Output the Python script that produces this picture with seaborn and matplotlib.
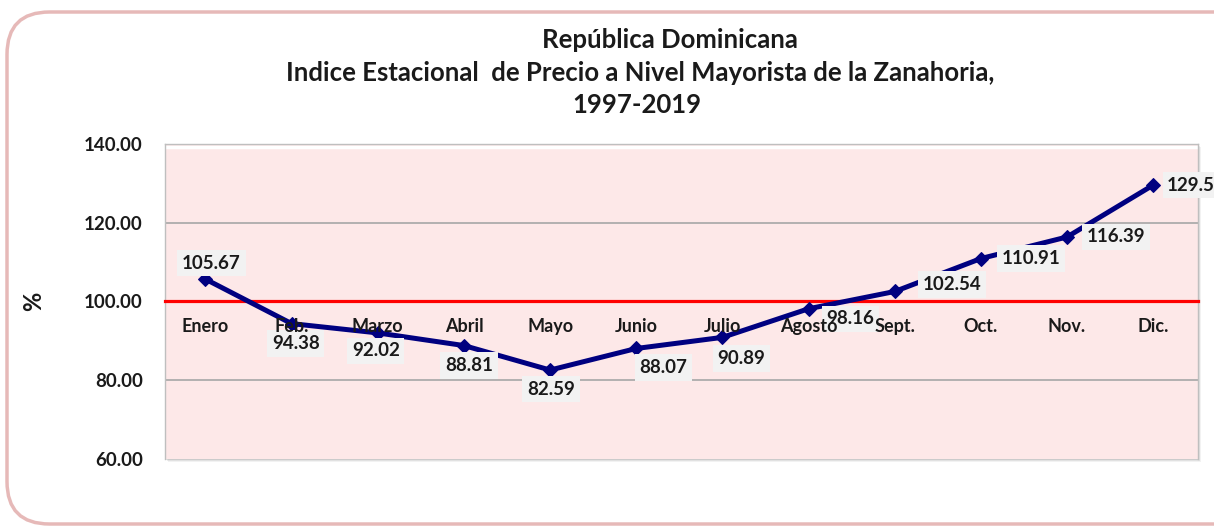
import numpy as np
import pandas as pd
import matplotlib
matplotlib.use("Agg")
import matplotlib.pyplot as plt
from matplotlib.patches import FancyBboxPatch, Rectangle
import seaborn as sns

months = ["Enero", "Feb.", "Marzo", "Abril", "Mayo", "Junio", "Julio",
          "Agosto", "Sept.", "Oct.", "Nov.", "Dic."]
values = [105.67, 94.38, 92.02, 88.81, 82.59, 88.07, 90.89,
          98.16, 102.54, 110.91, 116.39, 129.57]
y_ticks = [60, 80, 100, 120, 140]
title_lines = ["República Dominicana",
               "Indice Estacional  de Precio a Nivel Mayorista de la Zanahoria,",
               "1997-2019"]

# label offsets in pixels (dx, dy up) and horizontal alignment
label_offsets = [(6, 16, "center"), (4, -20, "center"), (-2, -18, "center"),
                 (5, -20, "center"), (1, -19, "center"), (27, -19, "center"),
                 (19, -21, "center"), (42, -10, "center"), (57, 7, "center"),
                 (50, 0, "center"), (49, 0, "center"), (14, 0, "left")]

sns.set_theme(style="white")
plt.rcParams["font.family"] = ["Lato", "DejaVu Sans"]
plt.rcParams["font.weight"] = "bold"

W, H = 1214, 529
fig = plt.figure(figsize=(W / 100, H / 100), dpi=100)
fig.patch.set_facecolor("white")

# outer rounded border
border = FancyBboxPatch((7 / W, 5 / H), (W + 40) / W, (H - 17) / H,
                        boxstyle="round,pad=0,rounding_size=0.035",
                        transform=fig.transFigure, facecolor="white",
                        edgecolor="#E6B9B8", linewidth=2.5, zorder=0,
                        mutation_aspect=W / H)
fig.patches.append(border)

ax_l, ax_b, ax_w, ax_h = 165 / W, 70 / H, 1033 / W, 315 / H
# shadow behind plot area
for i, a in enumerate([0.10, 0.15, 0.22]):
    off = (3 - i) / W
    offy = (3 - i) / H
    fig.patches.append(Rectangle((ax_l + off, ax_b - offy), ax_w, ax_h,
                                 transform=fig.transFigure, facecolor="#808080",
                                 edgecolor="none", alpha=a, zorder=1))

ax = fig.add_axes([ax_l, ax_b, ax_w, ax_h], zorder=2)
ax.set_facecolor("#FDE8E8")

df = pd.DataFrame({"pos": np.arange(len(months)), "mes": months, "valor": values})
sns.lineplot(data=df, x="pos", y="valor", ax=ax, sort=False, color="#000080",
             linewidth=3.6, marker="D", markersize=7.5, markeredgecolor="#000080",
             zorder=5)

ax.spines["bottom"].set_position(("data", 100))
ax.spines["bottom"].set_color("#FF0000")
ax.spines["bottom"].set_linewidth(2.3)
ax.spines["bottom"].set_zorder(3)
for s in ["top", "left", "right"]:
    ax.spines[s].set_color("#BFBFBF")
    ax.spines[s].set_linewidth(1.0)

ax.set_xlim(-0.47, 11.52)
ax.set_ylim(60, 140)
ax.set_yticks(y_ticks)
ax.set_yticklabels([f"{v:.2f}" for v in y_ticks], fontsize=13.5, fontweight="bold",
                   color="#1a1a1a")
for v in [80, 120]:
    ax.axhline(v, color="#A6A6A6", linewidth=1.2, zorder=1)

ax.set_xticks(np.arange(len(months)))
ax.set_xticklabels(months, fontsize=13, fontweight="bold", color="#1a1a1a")
ax.tick_params(axis="x", length=0, pad=12)
ax.tick_params(axis="y", length=0, pad=16)
ax.xaxis.set_zorder(6.5)
ax.set_xlabel("")
ax.set_ylabel("%", fontsize=17, fontweight="bold", color="#1a1a1a")
ax.yaxis.set_label_coords((45 - 165) / 1033, 0.5)
ax.grid(False)

# top white bevel
ax.axhline(139.3, color="white", linewidth=2.5, zorder=1)

for i, (v, (dx, dy, ha)) in enumerate(zip(values, label_offsets)):
    ax.annotate(f"{v:.2f}", xy=(i, v), xytext=(dx * 0.72, dy * 0.72),
                textcoords="offset points", ha=ha, va="center",
                fontsize=13.5, fontweight="bold", color="#1a1a1a",
                bbox=dict(boxstyle="square,pad=0.25", facecolor="#F2F2F2",
                          edgecolor="none"),
                zorder=6, annotation_clip=False)

ys = [1 - 40 / H, 1 - 73 / H, 1 - 105 / H]
xs = [670 / W, 640 / W, 637 / W]
for t, x, y in zip(title_lines, xs, ys):
    fig.text(x, y, t, ha="center", va="center", fontsize=18.5,
             fontweight="bold", color="#1a1a1a")

fig.savefig("out.png", dpi=100)
